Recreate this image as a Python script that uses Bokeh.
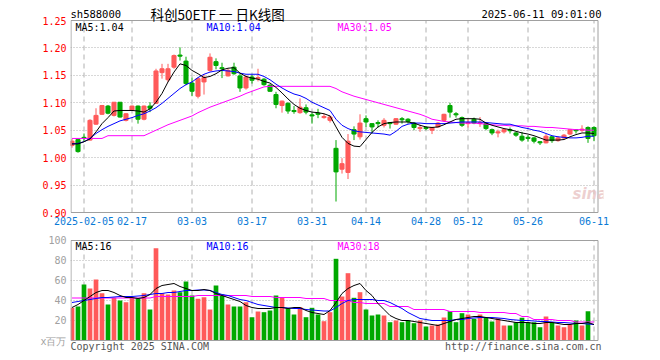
from bokeh.plotting import figure
from bokeh.layouts import column
from bokeh.models import Range1d, FixedTicker, ColumnDataSource
from bokeh.core.properties import value
from bokeh.embed import file_html
from bokeh.resources import INLINE

# ---------------- data ----------------
open_ = [1.022, 1.033, 1.037, 1.032, 1.061, 1.079, 1.094, 1.077, 1.101, 1.068,
         1.086, 1.094, 1.070, 1.094, 1.099, 1.155, 1.142, 1.165, 1.187, 1.176,
         1.136, 1.112, 1.138, 1.159, 1.175, 1.164, 1.149, 1.165, 1.149, 1.127,
         1.147, 1.144, 1.143, 1.132, 1.115, 1.095, 1.099, 1.086, 1.082, 1.091,
         1.078, 1.081, 1.073, 1.068, 1.017, 0.979, 0.973, 1.051, 1.038, 1.071,
         1.062, 1.064, 1.059, 1.064, 1.061, 1.071, 1.070, 1.063, 1.053, 1.055,
         1.050, 1.056, 1.068, 1.095, 1.080, 1.073, 1.062, 1.070, 1.062, 1.062,
         1.051, 1.045, 1.047, 1.051, 1.045, 1.039, 1.037, 1.036, 1.029, 1.027,
         1.038, 1.031, 1.036, 1.043, 1.051, 1.050, 1.055, 1.055]
high = [1.034, 1.034, 1.044, 1.070, 1.090, 1.096, 1.096, 1.101, 1.101, 1.081,
        1.095, 1.095, 1.095, 1.101, 1.162, 1.171, 1.171, 1.188, 1.201, 1.184,
        1.146, 1.146, 1.152, 1.190, 1.181, 1.173, 1.162, 1.173, 1.153, 1.150,
        1.151, 1.162, 1.145, 1.134, 1.120, 1.104, 1.101, 1.094, 1.108, 1.097,
        1.082, 1.089, 1.080, 1.077, 1.032, 0.999, 1.043, 1.057, 1.079, 1.077,
        1.063, 1.068, 1.072, 1.065, 1.072, 1.074, 1.072, 1.065, 1.060, 1.057,
        1.056, 1.065, 1.080, 1.100, 1.083, 1.075, 1.070, 1.073, 1.074, 1.063,
        1.053, 1.051, 1.052, 1.055, 1.047, 1.047, 1.041, 1.038, 1.030, 1.043,
        1.039, 1.039, 1.043, 1.052, 1.052, 1.059, 1.057, 1.057]
low = [1.018, 1.009, 1.029, 1.031, 1.060, 1.078, 1.079, 1.075, 1.073, 1.066,
       1.085, 1.062, 1.068, 1.083, 1.098, 1.144, 1.138, 1.162, 1.177, 1.132,
       1.112, 1.108, 1.115, 1.157, 1.161, 1.145, 1.148, 1.151, 1.120, 1.124,
       1.135, 1.139, 1.131, 1.120, 1.090, 1.082, 1.080, 1.080, 1.080, 1.079,
       1.062, 1.072, 1.071, 1.064, 0.920, 0.971, 0.961, 1.032, 1.033, 1.056,
       1.044, 1.055, 1.055, 1.053, 1.060, 1.062, 1.062, 1.050, 1.047, 1.050,
       1.043, 1.055, 1.066, 1.073, 1.073, 1.056, 1.055, 1.061, 1.056, 1.050,
       1.041, 1.037, 1.044, 1.044, 1.038, 1.029, 1.029, 1.026, 1.023, 1.026,
       1.027, 1.029, 1.034, 1.041, 1.044, 1.047, 1.027, 1.030]
close = [1.030, 1.011, 1.036, 1.068, 1.077, 1.095, 1.081, 1.101, 1.074, 1.080,
         1.094, 1.070, 1.094, 1.090, 1.158, 1.162, 1.162, 1.186, 1.185, 1.135,
         1.121, 1.144, 1.146, 1.183, 1.168, 1.162, 1.159, 1.153, 1.127, 1.147,
         1.141, 1.146, 1.133, 1.121, 1.097, 1.103, 1.085, 1.084, 1.092, 1.083,
         1.076, 1.079, 1.075, 1.074, 0.974, 0.989, 1.030, 1.043, 1.063, 1.065,
         1.056, 1.062, 1.068, 1.062, 1.071, 1.069, 1.066, 1.055, 1.055, 1.053,
         1.055, 1.063, 1.079, 1.083, 1.078, 1.059, 1.064, 1.063, 1.064, 1.053,
         1.045, 1.047, 1.051, 1.049, 1.041, 1.032, 1.035, 1.030, 1.027, 1.039,
         1.031, 1.036, 1.041, 1.051, 1.049, 1.052, 1.035, 1.040]
ma5 = [1.025, 1.025, 1.029, 1.034, 1.047, 1.062, 1.073, 1.085, 1.086, 1.086,
       1.086, 1.085, 1.083, 1.089, 1.101, 1.117, 1.138, 1.156, 1.171, 1.168,
       1.159, 1.153, 1.146, 1.148, 1.153, 1.160, 1.163, 1.164, 1.154, 1.148,
       1.145, 1.143, 1.139, 1.136, 1.128, 1.118, 1.107, 1.097, 1.090, 1.086,
       1.083, 1.082, 1.080, 1.076, 1.056, 1.037, 1.026, 1.021, 1.020, 1.033,
       1.046, 1.056, 1.062, 1.064, 1.065, 1.065, 1.065, 1.063, 1.059, 1.056,
       1.055, 1.056, 1.060, 1.065, 1.070, 1.071, 1.071, 1.071, 1.070, 1.063,
       1.059, 1.056, 1.053, 1.051, 1.048, 1.045, 1.043, 1.040, 1.036, 1.032,
       1.032, 1.032, 1.033, 1.038, 1.042, 1.045, 1.045, 1.044]
ma10 = [1.025, 1.026, 1.029, 1.035, 1.044, 1.051, 1.057, 1.062, 1.067, 1.070,
        1.073, 1.077, 1.080, 1.085, 1.091, 1.099, 1.108, 1.117, 1.126, 1.133,
        1.138, 1.146, 1.152, 1.156, 1.158, 1.159, 1.158, 1.157, 1.154, 1.152,
        1.152, 1.152, 1.148, 1.142, 1.134, 1.127, 1.121, 1.116, 1.113, 1.108,
        1.101, 1.096, 1.091, 1.086, 1.070, 1.059, 1.053, 1.049, 1.047, 1.046,
        1.045, 1.044, 1.043, 1.041, 1.048, 1.057, 1.061, 1.063, 1.063, 1.062,
        1.062, 1.062, 1.062, 1.063, 1.064, 1.065, 1.065, 1.065, 1.065, 1.064,
        1.063, 1.062, 1.061, 1.061, 1.058, 1.055, 1.053, 1.050, 1.048, 1.044,
        1.040, 1.038, 1.037, 1.036, 1.036, 1.037, 1.039, 1.039]
ma30 = [1.035, 1.035, 1.035, 1.035, 1.035, 1.035, 1.040, 1.040, 1.040, 1.040,
        1.040, 1.040, 1.040, 1.045, 1.050, 1.055, 1.060, 1.064, 1.068, 1.072,
        1.076, 1.082, 1.087, 1.092, 1.096, 1.100, 1.104, 1.108, 1.112, 1.117,
        1.121, 1.125, 1.129, 1.130, 1.130, 1.130, 1.130, 1.130, 1.130, 1.130,
        1.130, 1.130, 1.130, 1.130, 1.126, 1.120, 1.116, 1.112, 1.109, 1.106,
        1.103, 1.100, 1.097, 1.094, 1.091, 1.088, 1.085, 1.082, 1.079, 1.075,
        1.070, 1.068, 1.066, 1.065, 1.064, 1.063, 1.063, 1.063, 1.062, 1.061,
        1.060, 1.059, 1.059, 1.058, 1.058, 1.058, 1.057, 1.057, 1.056, 1.055,
        1.055, 1.054, 1.053, 1.052, 1.051, 1.051, 1.050, 1.050]
volume = [32.7, 34.0, 56.0, 52.0, 61.0, 47.3, 36.0, 42.7, 40.0, 38.3,
          42.7, 42.3, 47.3, 31.0, 92.3, 47.3, 46.0, 50.0, 48.3, 59.0,
          45.0, 41.7, 43.3, 31.0, 55.0, 46.0, 36.0, 34.0, 34.0, 38.3,
          23.3, 29.0, 28.3, 30.0, 45.0, 43.3, 32.3, 26.0, 33.3, 23.3,
          32.7, 26.0, 19.3, 28.3, 81.7, 44.0, 67.3, 42.7, 48.3, 31.0,
          25.0, 26.0, 25.0, 18.3, 20.0, 18.3, 20.0, 17.3, 20.0, 14.0,
          15.0, 16.0, 23.0, 29.3, 18.3, 27.3, 26.0, 21.7, 26.0, 22.7,
          19.0, 22.3, 15.0, 15.0, 18.3, 22.7, 18.3, 18.3, 13.3, 24.0,
          18.3, 15.0, 13.3, 16.0, 20.0, 15.0, 29.3, 0.5]
vma5 = [33, 36, 40, 44, 48, 50, 50, 48, 45, 43,
        43, 42, 43, 46, 52, 55, 56, 57, 54, 52,
        50, 50, 51, 50, 47, 45, 43, 41, 39, 35,
        33, 32, 32, 32, 33, 33, 32, 33, 33, 30,
        28, 27, 26, 30, 38, 47, 52, 55, 57, 50,
        45, 37, 31, 25, 22, 20, 20, 19, 18, 17,
        16, 15, 17, 19, 21, 22, 23, 24, 24, 23,
        22, 21, 20, 19, 18, 18, 18, 17, 17, 18,
        18, 17, 16, 16, 17, 17, 18, 16]
vma10 = [38, 39, 40, 41, 42, 43, 43, 43.5, 44, 44,
         44, 44.5, 45, 46, 47, 47, 48, 48, 49, 50,
         50, 50.5, 50.5, 50, 48, 46, 45, 43, 41, 40,
         38, 36, 35, 34, 33, 33, 32.5, 32, 32, 31,
         30.5, 30, 29.5, 29.5, 33, 37, 40, 41, 41, 41,
         41, 40, 40, 38, 35, 32, 28, 25, 22, 21,
         20, 20, 20, 20, 21, 21, 22, 22.5, 23, 23,
         23, 22.5, 22, 21, 20.5, 20, 20, 19.5, 19, 19,
         18.5, 18, 18, 17.5, 17, 17, 16.5, 16]
vma30 = [42.5, 42.5, 42.5, 42.5, 42.5, 42.5, 42.5, 42.5, 42.5, 42.5,
         42.5, 42.5, 42.5, 42.5, 44, 44, 44, 44, 44, 44,
         44, 45, 45, 45, 45, 45, 45, 45, 45, 45,
         44, 44, 44, 44, 43, 43, 43, 43, 43, 42,
         42, 42, 42, 40, 40, 40, 40, 38, 38, 37,
         37, 37, 37, 34, 34, 34, 34, 31, 31, 31,
         31, 31, 31, 29, 29, 29, 29, 29, 28, 28,
         28, 28, 28, 27, 27, 24, 24, 21, 21, 21,
         21, 20, 20, 20, 18.5, 18.5, 18.5, 18.5]
tick_pos = [2, 10, 20, 30, 40, 49, 59, 66, 76, 87]
tick_txt = ["2025-02-05", "02-17", "03-03", "03-17", "03-31", "04-14",
            "04-28", "05-12", "05-26", "06-11"]
price_ticks = [0.90, 0.95, 1.00, 1.05, 1.10, 1.15, 1.20, 1.25]
vol_ticks = [20, 40, 60, 80, 100]
vol_unit = "x百万"

# ---------------- style / geometry ----------------
W = 660
MONO = "DejaVu Sans Mono"
CJK = "Noto Sans CJK SC"
RED = "#ff5a5a"
GREEN = "#00a800"
GRID = "#b0b0b0"
BORDER = "#a0a0a0"
FL, FR = 70, 603          # bokeh frame left/right (page px)
BL, BR = 70.5, 597.5      # drawn panel border (page px)
X0 = (FL - 71.5) / 6.0
X1 = (FR - 71.5) / 6.0
PPX = 0.35 / 192          # price per pixel


def px_x(px):
    return (px - 71.5) / 6.0


def py_price(py):
    return 1.25 - (py - 20) * PPX


def py_vol(py):
    return 100 - (py - 240)


idx = list(range(len(close)))
colors = [RED if c >= o else GREEN for o, c in zip(open_, close)]
src = ColumnDataSource(dict(
    x=idx, o=open_, h=high, l=low, c=close,
    top=[max(o, c) for o, c in zip(open_, close)],
    bot=[min(o, c) for o, c in zip(open_, close)],
    color=colors, vol=volume))

xr = Range1d(X0, X1)


def style_axis(ax, color):
    ax.axis_line_color = None
    ax.major_tick_line_color = None
    ax.minor_tick_line_color = None
    ax.major_tick_in = 0
    ax.major_tick_out = 0
    ax.major_label_text_font = MONO
    ax.major_label_text_font_size = "10px"
    ax.major_label_standoff = 4
    ax.major_label_text_color = color


def txt(fig, text, x, y, color="#000000", font=MONO, size="10px", align="left",
        style="normal", alpha=1.0):
    fig.text(x=[x], y=[y], text=[text], text_color=color, text_font=value(font),
             text_font_size=size, text_align=align, text_baseline="middle",
             text_font_style=style, text_alpha=alpha)


# ---------------- price panel ----------------
p = figure(width=W, height=232, x_range=xr,
           y_range=Range1d(0.90 - PPX, py_price(0)),
           output_backend="svg", toolbar_location=None,
           min_border_left=FL, min_border_right=W - FR, min_border_top=0,
           min_border_bottom=19)
p.outline_line_color = None
p.xaxis.ticker = FixedTicker(ticks=tick_pos)
p.xaxis.major_label_overrides = {t: s for t, s in zip(tick_pos, tick_txt)}
p.yaxis.ticker = FixedTicker(ticks=price_ticks)
p.yaxis.major_label_overrides = {t: "%.2f" % t for t in price_ticks}
style_axis(p.xaxis[0], "#0a7ad6")
p.xaxis[0].major_label_standoff = 3
style_axis(p.yaxis[0], "#ff0000")
p.xgrid.visible = False
p.ygrid.ticker = FixedTicker(ticks=price_ticks[1:-1])
p.ygrid.grid_line_color = GRID
p.ygrid.grid_line_dash = "1 2"
p.segment(x0=tick_pos, y0=[0.90] * len(tick_pos), x1=tick_pos,
          y1=[1.25] * len(tick_pos), line_color=GRID, line_dash="5 4",
          line_width=1)
# keep horizontal gridlines inside the drawn border
p.quad(left=[px_x(BR) + 0.05], right=[X1], bottom=[0.90], top=[1.25],
       fill_color="white", line_color=None)

p.segment(x0="x", y0="l", x1="x", y1="h", color="color", line_width=1, source=src)
p.vbar(x="x", width=0.68, top="top", bottom="bot", fill_color="color",
       line_color="color", line_width=1, source=src)
p.line(idx, ma30, color="#ff00ff", line_width=1)
p.line(idx, ma10, color="#0000ff", line_width=1)
p.line(idx, ma5, color="#000000", line_width=1)
p.quad(left=[px_x(BL)], right=[px_x(BR)], bottom=[0.90], top=[1.25],
       fill_color=None, line_color=BORDER, line_width=1)

txt(p, "sh588000", px_x(70), py_price(13), size="10.5px")
txt(p, "科创50ETF 一 日K线图", px_x(150), py_price(13), font=CJK, size="13.5px")
txt(p, "2025-06-11 09:01:00", px_x(601), py_price(13), align="right", size="10.5px")
txt(p, "MA5:1.04", px_x(75), py_price(27), color="#000000")
txt(p, "MA10:1.04", px_x(206), py_price(27), color="#0000ff")
txt(p, "MA30:1.05", px_x(337), py_price(27), color="#ff00ff")
txt(p, "sina", px_x(572), py_price(193), color="#e9c4c4", font="DejaVu Sans",
    size="15px", style="bold italic", alpha=0.8)

# ---------------- volume panel ----------------
v = figure(width=W, height=128, x_range=xr, y_range=Range1d(-20, 101),
           output_backend="svg", toolbar_location=None,
           min_border_left=FL, min_border_right=W - FR, min_border_top=7,
           min_border_bottom=0)
v.outline_line_color = None
v.xaxis.visible = False
v.xgrid.visible = False
v.yaxis.ticker = FixedTicker(ticks=[-1] + vol_ticks)
v.yaxis.major_label_overrides = {-1: vol_unit}
style_axis(v.yaxis[0], "#a0a0a0")
v.ygrid.ticker = FixedTicker(ticks=vol_ticks[:-1])
v.ygrid.grid_line_color = GRID
v.ygrid.grid_line_dash = "1 2"
v.segment(x0=tick_pos, y0=[0] * len(tick_pos), x1=tick_pos,
          y1=[100] * len(tick_pos), line_color=GRID, line_dash="5 4",
          line_width=1)
v.quad(left=[px_x(BR) + 0.05], right=[X1], bottom=[0], top=[100],
       fill_color="white", line_color=None)

v.vbar(x="x", width=0.78, top="vol", bottom=0, fill_color="color",
       line_color=None, source=src)
v.line(idx, vma30, color="#ff00ff", line_width=1)
v.line(idx, vma10, color="#0000ff", line_width=1)
v.line(idx, vma5, color="#000000", line_width=1)
v.quad(left=[px_x(BL)], right=[px_x(BR)], bottom=[0], top=[100],
       fill_color=None, line_color=BORDER, line_width=1)

txt(v, "MA5:16", px_x(75), py_vol(246), color="#000000")
txt(v, "MA10:16", px_x(206), py_vol(246), color="#0000ff")
txt(v, "MA30:18", px_x(337), py_vol(246), color="#ff00ff")
txt(v, "Copyright 2025 SINA.COM", px_x(70), py_vol(346), color="#555555")
txt(v, "http://finance.sina.com.cn", px_x(601), py_vol(346), color="#555555",
    align="right")

layout = column(p, v, spacing=0)
open("out.html", "w").write(file_html(layout, INLINE))
